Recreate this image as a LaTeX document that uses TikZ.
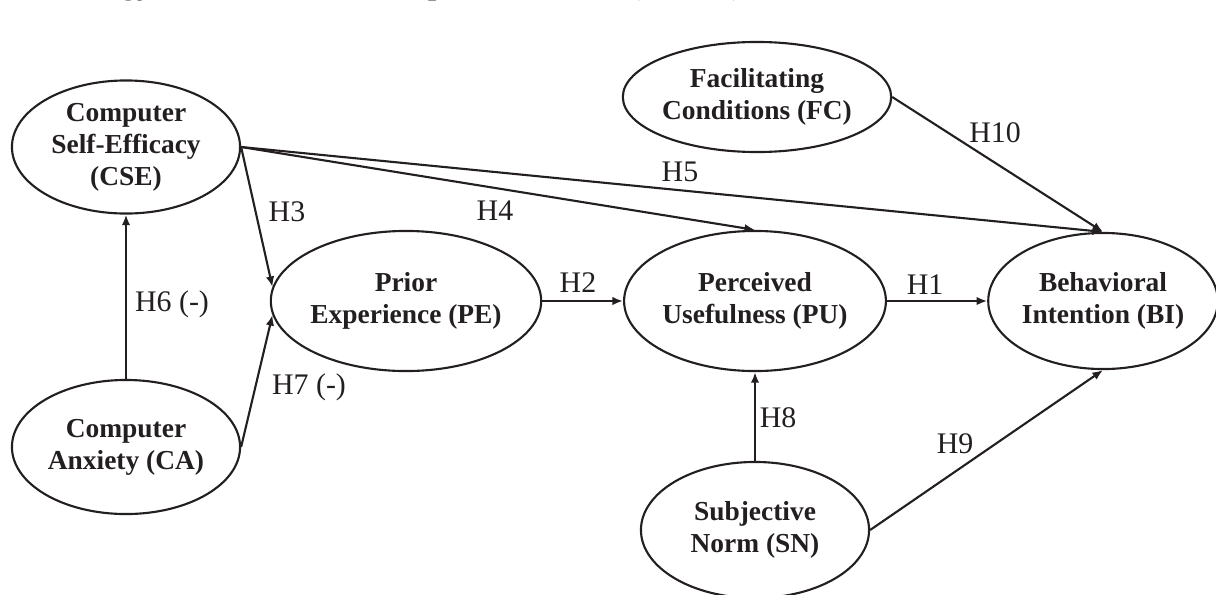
\documentclass[tikz,border=0pt]{standalone}
\usepackage{fontspec}
\setmainfont{Liberation Serif}
\usetikzlibrary{shapes.geometric,arrows.meta}
\definecolor{ink}{RGB}{35,31,32}

\begin{document}
\begin{tikzpicture}[x=0.01cm, y=-0.01cm, line width=0.6pt, draw=ink, text=ink,
    >={Latex[length=3pt,width=2.4pt]},
    construct/.style={ellipse, draw, inner sep=0pt, minimum width=2.28cm, minimum height=1.38cm,
        align=center, font=\fontsize{7.8}{9.1}\selectfont\bfseries},
    hyp/.style={font=\fontsize{8.5}{10}\selectfont, inner sep=0pt}]
    \useasboundingbox (0,0) rectangle (1216,594);
    \node[anchor=base west, inner sep=0pt, font=\fontsize{10}{12}\selectfont\itshape] (title) at (-6,-7)
        {Technology Based Exams Acceptance Model (TEAM)};

    % constructs
    \node[construct, minimum height=1.33cm] (CSE) at (126,147) {Computer\\Self-Efficacy\\(CSE)};
    \node[construct, minimum height=1.34cm] (CA) at (126,447) {Computer\\Anxiety (CA)};
    \node[construct, minimum height=1.40cm] (PE) at (406,301) {Prior\\Experience (PE)};
    \node[construct, minimum height=1.40cm] (PU) at (755,301) {Perceived\\Usefulness (PU)};
    \node[construct, minimum width=2.22cm, minimum height=1.36cm] (BI) at (1103,301) {Behavioral\\Intention (BI)};
    \node[construct, minimum height=1.10cm] (FC) at (757,97) {Facilitating\\Conditions (FC)};
    \node[construct, minimum height=1.36cm] (SN) at (755,530) {Subjective\\Norm (SN)};

    % hypotheses
    \draw[->] (PU.east) -- (BI.west);
    \draw[->] (PE.east) -- (PU.west);
    \draw[->] (CSE.east) -- (PE.174);
    \draw[->] (CSE.east) -- (PU.north);
    \draw[->] (CSE.east) -- (BI.north);
    \draw[->] (CA.north) -- (CSE.south);
    \draw[->] (CA.east) -- (PE.186);
    \draw[->] (SN.north) -- (PU.south);
    \draw[->] (SN.east) -- (BI.south);
    \draw[->] (FC.east) -- (BI.north);

    \node[hyp] (h1) at (925,285) {H1};
    \node[hyp] (h2) at (578,283) {H2};
    \node[hyp] (h3) at (287,212) {H3};
    \node[hyp] (h4) at (495,211) {H4};
    \node[hyp] (h5) at (680,172) {H5};
    \node[hyp] (h6) at (172,304) {H6 (-)};
    \node[hyp] (h7) at (309,387) {H7 (-)};
    \node[hyp] (h8) at (778,418) {H8};
    \node[hyp] (h9) at (955,444) {H9};
    \node[hyp] (h10) at (995,133) {H10};
\end{tikzpicture}
\end{document}
